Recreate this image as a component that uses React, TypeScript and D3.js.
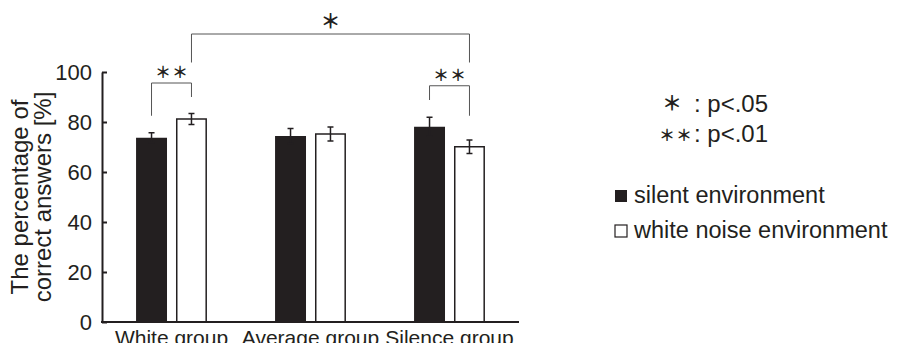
import React, { useEffect, useRef } from 'react';
import * as d3 from 'd3';

// data
const groups = ['White group', 'Average group', 'Silence group'];
const conditions = ['silent environment', 'white noise environment'];
const silentMeans = [73.7, 74.4, 78.1];
const noiseMeans = [81.2, 75.2, 70.1];
const silentErr = [2.0, 3.0, 3.8];
const noiseErr = [2.2, 2.8, 2.7];
const yTicks = [0, 20, 40, 60, 80, 100];

// significance brackets: [group, condition] for each end, levels in % units
const brackets = [
  { from: [0, 0], to: [0, 1], top: 95.6, leftEnd: 82.5, rightEnd: 90, stars: 2 },
  { from: [0, 1], to: [2, 1], top: 115.2, leftEnd: 103.8, rightEnd: 103.8, stars: 1 },
  { from: [2, 0], to: [2, 1], top: 94.5, leftEnd: 88.8, rightEnd: 82.5, stars: 2 },
];
const sigLegend = [
  { stars: 1, text: ': p<.05' },
  { stars: 2, text: ': p<.01' },
];

const INK = '#231f20';
const FONT = '"Liberation Sans", Arial, Helvetica, sans-serif';
const STAR_FONT = '"Noto Sans CJK JP", "DejaVu Sans", sans-serif';

export default function App() {
  const ref = useRef<SVGSVGElement>(null);
  const width = 901;
  const height = 351;
  const margin = { top: 72, left: 102, right: 382, bottom: 29 };

  useEffect(() => {
    const svg = d3.select(ref.current);
    svg.selectAll('*').remove();

    const x0 = d3.scaleBand()
      .domain(groups)
      .range([margin.left, width - margin.right])
      .paddingInner(0.49)
      .paddingOuter(0.245);
    const x1 = d3.scaleBand()
      .domain(conditions)
      .range([0, x0.bandwidth()])
      .paddingInner(0.225);
    const y = d3.scaleLinear().domain([0, 100]).range([height - margin.bottom, margin.top]);

    const flat = groups.flatMap((g, i) => [
      { g, c: conditions[0], v: silentMeans[i], e: silentErr[i] },
      { g, c: conditions[1], v: noiseMeans[i], e: noiseErr[i] },
    ]);

    // bars
    svg.append('g')
      .selectAll('rect')
      .data(flat)
      .enter()
      .append('rect')
      .attr('x', d => x0(d.g)! + x1(d.c)! + (d.c === conditions[0] ? 0 : 0.75))
      .attr('y', d => y(d.v))
      .attr('width', d => x1.bandwidth() - (d.c === conditions[0] ? 0 : 1.5))
      .attr('height', d => y(0) - y(d.v))
      .attr('fill', d => (d.c === conditions[0] ? INK : '#fff'))
      .attr('stroke', INK)
      .attr('stroke-width', d => (d.c === conditions[0] ? 0 : 1.5));

    // error bars
    const eb = svg.append('g').attr('stroke', INK).attr('stroke-width', 1.5);
    flat.forEach(d => {
      const cx = x0(d.g)! + x1(d.c)! + x1.bandwidth() / 2;
      eb.append('line').attr('x1', cx).attr('x2', cx).attr('y1', y(d.v + d.e)).attr('y2', y(d.v - d.e));
      [d.v + d.e, d.v - d.e].forEach(v => {
        eb.append('line').attr('x1', cx - 3).attr('x2', cx + 3).attr('y1', y(v)).attr('y2', y(v));
      });
    });

    // axes
    const yAxis = svg.append('g')
      .attr('transform', `translate(${margin.left},0)`)
      .call(d3.axisLeft(y).tickValues(yTicks).tickSize(-5).tickSizeOuter(0).tickPadding(10));
    yAxis.select('.domain').attr('stroke', INK).attr('stroke-width', 2);
    yAxis.selectAll('.tick line').attr('stroke', INK).attr('stroke-width', 2);
    yAxis.selectAll('.tick text')
      .attr('fill', INK)
      .style('font-family', FONT)
      .style('font-size', '22px');

    svg.append('line')
      .attr('x1', margin.left - 1).attr('x2', width - margin.right)
      .attr('y1', y(0)).attr('y2', y(0))
      .attr('stroke', INK).attr('stroke-width', 2);

    svg.append('g')
      .selectAll('text')
      .data(groups)
      .enter()
      .append('text')
      .attr('x', d => x0(d)! + x0.bandwidth() / 2)
      .attr('y', height - 6)
      .attr('text-anchor', 'middle')
      .attr('fill', INK)
      .style('font-family', FONT)
      .style('font-size', '21px')
      .text(d => d);

    // y label
    const yl = svg.append('text')
      .attr('transform', `translate(28,${(y(0) + y(100)) / 2}) rotate(-90)`)
      .attr('text-anchor', 'middle')
      .attr('fill', INK)
      .style('font-family', FONT)
      .style('font-size', '24px');
    yl.append('tspan').attr('x', 0).attr('dy', 0).text('The percentage of');
    yl.append('tspan').attr('x', 0).attr('dy', 23).text('correct answers [%]');

    const starText = (g: any, x: number, yy: number, size: number) =>
      g.append('text')
        .attr('x', x).attr('y', yy)
        .attr('text-anchor', 'middle')
        .attr('fill', INK)
        .style('font-family', STAR_FONT)
        .style('font-size', `${size}px`)
        .style('font-weight', 'bold')
        .text('＊');

    // brackets
    const bg = svg.append('g');
    const cxOf = (p: number[]) => x0(groups[p[0]])! + x1(conditions[p[1]])! + x1.bandwidth() / 2;
    brackets.forEach(b => {
      const xa = cxOf(b.from);
      const xb = cxOf(b.to);
      const path = d3.path();
      path.moveTo(xa, y(b.leftEnd));
      path.lineTo(xa, y(b.top));
      path.lineTo(xb, y(b.top));
      path.lineTo(xb, y(b.rightEnd));
      bg.append('path').attr('d', path.toString()).attr('fill', 'none').attr('stroke', '#555').attr('stroke-width', 1);
      const mid = (xa + xb) / 2;
      if (b.stars === 1) {
        starText(bg, mid, y(b.top) - 5, 20);
      } else {
        starText(bg, mid - 8.5, y(b.top) - 5, 16);
        starText(bg, mid + 8.5, y(b.top) - 5, 16);
      }
    });

    // significance legend
    const sig = svg.append('g');
    sigLegend.forEach((s, i) => {
      const by = 112 + i * 30;
      if (s.stars === 1) {
        starText(sig, 672, by - 1, 20);
      } else {
        starText(sig, 667, by - 1, 16);
        starText(sig, 684, by - 1, 16);
      }
      sig.append('text')
        .attr('x', 694).attr('y', by)
        .attr('fill', INK)
        .style('font-family', FONT)
        .style('font-size', '24px')
        .text(s.text);
    });

    // condition legend
    const lg = svg.append('g');
    conditions.forEach((c, i) => {
      const base = 203 + i * 35;
      lg.append('rect')
        .attr('x', 615).attr('y', base - 13).attr('width', 12).attr('height', 12)
        .attr('fill', i === 0 ? INK : '#fff')
        .attr('stroke', INK).attr('stroke-width', i === 0 ? 0 : 1.2);
      lg.append('text')
        .attr('x', 634).attr('y', base)
        .attr('fill', INK)
        .style('font-family', FONT)
        .style('font-size', '23.5px')
        .text(c);
    });
  }, []);

  return (
    <div style={{ margin: -8 }}>
      <svg ref={ref} width={width} height={height} style={{ display: 'block', background: '#fff' }} />
    </div>
  );
}
